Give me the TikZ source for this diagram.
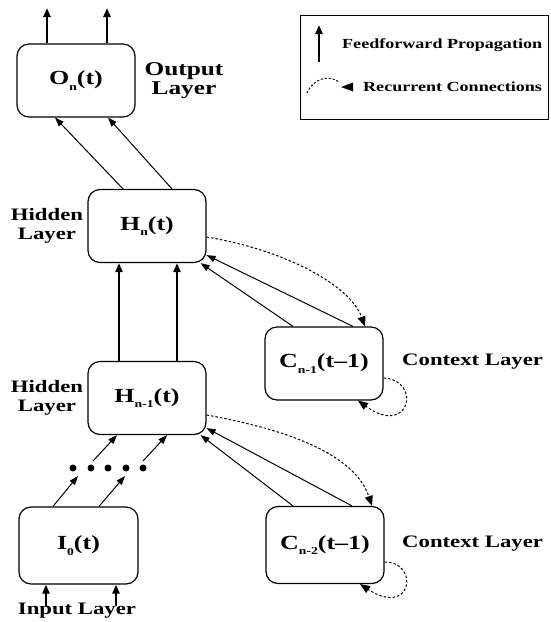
\documentclass[tikz,border=0pt]{standalone}
\usepackage{fontspec}
\usetikzlibrary{arrows.meta,calc}
\newfontfamily\serifB{Liberation Serif}[FakeStretch=1.3]
\newcommand\lblfnt{\serifB\bfseries\fontsize{17.5}{19.5}\selectfont}
\newcommand\biglblfnt{\serifB\bfseries\fontsize{19.5}{19.5}\selectfont}
\newcommand\legfnt{\serifB\bfseries\fontsize{13.9}{16}\selectfont}
\newcommand\nodefnt{\serifB\bfseries\fontsize{20}{22}\selectfont}
\newcommand\sbs[1]{\raisebox{-5.5pt}{\fontsize{10.5}{10.5}\selectfont #1}}
\tikzset{
  box/.style={draw, rounded corners=12pt, line width=1.2pt, minimum width=118pt, minimum height=73pt, font=\nodefnt, inner sep=0pt},
  ffw/.style={line width=2.2pt, -{Triangle[length=9pt,width=7pt]}},
  fthin/.style={line width=1pt, -{Triangle[length=9pt,width=6.5pt]}},
  rec/.style={line width=1pt, dash pattern=on 2.5pt off 2pt, -{Triangle[length=10pt,width=8pt]}},
  lbl/.style={font=\lblfnt, align=center, inner sep=0pt},
  leg/.style={font=\legfnt, anchor=west, inner sep=0pt},
  dotn/.style={circle, fill, inner sep=0pt, minimum size=7pt}
}
\begin{document}
\begin{tikzpicture}[x=1pt,y=-1pt]
\useasboundingbox (0,0) rectangle (550,622);
% legend
\node[draw, line width=0.8pt, minimum width=248pt, minimum height=104pt, anchor=north west, inner sep=0pt] (legend) at (300,15) {};
\coordinate (lf1) at (319,62);
\coordinate (lf2) at (319,25);
\draw[ffw] (lf1) -- (lf2);
\node[leg] (legff) at (342,45) {Feedforward Propagation};
\coordinate (lr1) at (307,93);
\coordinate (lr2) at (339,82);
\draw[line width=1pt, dash pattern=on 2pt off 2pt] (lr1) .. controls (313,79) and (328,74) .. (lr2);
\fill (353,82.5) -- (353,91.5) -- (341,87) -- cycle;
\node[leg] (legrc) at (363,87) {Recurrent Connections};

% boxes
\node[box] (O) at (76,80.5) {O\sbs{n}(t)};
\node[box] (Hn) at (147,226) {H\sbs{n}(t)};
\node[box] (Hn1) at (147,398) {H\sbs{n-1}(t)};
\node[box] (Cn1) at (324,363.5) {C\sbs{n-1}(t–1)};
\node[box, minimum height=77pt, minimum width=119pt] (I0) at (78.5,545.5) {I\sbs{0}(t)};
\node[box, minimum height=77pt] (Cn2) at (325,545) {C\sbs{n-2}(t–1)};

% labels
\node[lbl, font=\biglblfnt] (lo) at (184,80.5) {Output\\Layer};
\node[lbl] (lh1) at (47,226) {Hidden\\Layer};
\node[lbl] (lh2) at (47,398) {Hidden\\Layer};
\node[lbl, anchor=west] (lc1) at (402,362) {Context Layer};
\node[lbl, anchor=west] (lc2) at (402,544) {Context Layer};
\node[lbl] (li) at (77,611) {Input Layer};

% output arrows
\coordinate (out1) at (47,8);
\coordinate (out2) at (107,8);
\draw[ffw] (47,0 |- O.north) -- (out1);
\draw[ffw] (107,0 |- O.north) -- (out2);

% Hn -> O
\draw[fthin] (123,0 |- Hn.north) -- (55,0 |- O.south);
\draw[fthin] (172,0 |- Hn.north) -- (108,0 |- O.south);

% Hn1 -> Hn
\draw[ffw] (119,0 |- Hn1.north) -- (119,0 |- Hn.south);
\draw[ffw] (177,0 |- Hn1.north) -- (177,0 |- Hn.south);

% Cn1 -> Hn
\draw[fthin] (293,0 |- Cn1.north) -- ([xshift=-6pt]Hn.south east);
\draw[fthin] (353,0 |- Cn1.north) -- ([yshift=8pt]Hn.south east);
% Hn -> Cn1 recurrent
\draw[rec] ([yshift=-11pt]Hn.east) .. controls (285,250) and (350,285) .. (365,0 |- Cn1.north);
% Cn1 self loop
\draw[rec] ([yshift=-14.5pt]Cn1.east) .. controls (422,380) and (410,438) .. (358,0 |- Cn1.south);

% Cn2 -> Hn1
\draw[fthin] (293,0 |- Cn2.north) -- ([xshift=-6pt]Hn1.south east);
\draw[fthin] (352,0 |- Cn2.north) -- ([yshift=7pt]Hn1.south east);
% Hn1 -> Cn2 recurrent
\draw[rec] ([yshift=-17pt]Hn1.east) .. controls (290,430) and (355,455) .. (372,0 |- Cn2.north);
% Cn2 self loop
\draw[rec] ([yshift=-17pt]Cn2.east) .. controls (420,562) and (412,618) .. (360,0 |- Cn2.south);

% dots
\foreach \i/\x in {1/73,2/91,3/108,4/126,5/143}{
  \node[dotn] (dot\i) at (\x,468) {};
}
% I0 -> dots
\coordinate (ia1) at (78,476);
\coordinate (ia2) at (125,476);
\draw[fthin] (53,0 |- I0.north) -- (ia1);
\draw[fthin] (99,0 |- I0.north) -- (ia2);
% dots -> Hn1
\coordinate (da1) at (93,461);
\coordinate (da2) at (143,461);
\draw[fthin] (da1) -- (117,0 |- Hn1.south);
\draw[fthin] (da2) -- (167,0 |- Hn1.south);

% input arrows
\coordinate (in1) at (46,606);
\coordinate (in2) at (116,606);
\draw[ffw] (in1) -- (46,0 |- I0.south);
\draw[ffw] (in2) -- (116,0 |- I0.south);
\end{tikzpicture}
\end{document}
